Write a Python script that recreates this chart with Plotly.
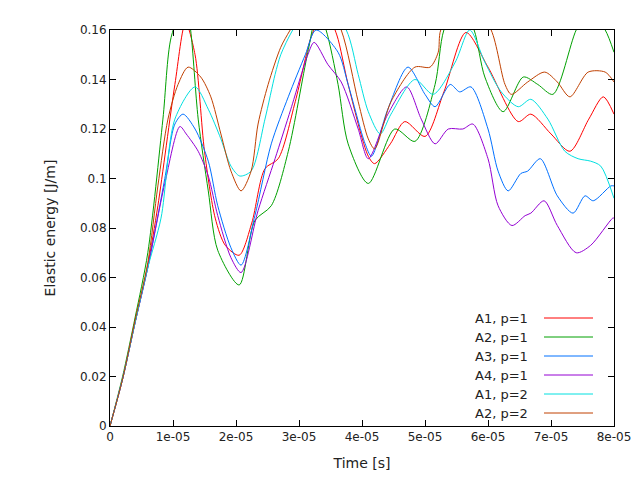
import plotly.graph_objects as go

# tiempo en unidades de 1e-5 s
t_red = [0, 0.2, 0.4, 0.6, 0.76, 1.03, 1.2, 1.35, 1.5, 1.67, 1.83, 2.05, 2.25, 2.46, 2.67, 2.94, 3.19, 3.3, 3.45, 3.6, 3.78, 4.1, 4.2, 4.45, 4.68, 5.0, 5.3, 5.65, 6.0, 6.48, 6.68, 7.0, 7.3, 7.6, 7.83, 8.0]
y_red = [0, 0.019, 0.042, 0.065, 0.089, 0.138, 0.163, 0.150, 0.111, 0.084, 0.073, 0.069, 0.082, 0.104, 0.108, 0.131, 0.157, 0.163, 0.166, 0.158, 0.138, 0.109, 0.106, 0.114, 0.123, 0.117, 0.135, 0.159, 0.145, 0.123, 0.126, 0.118, 0.111, 0.124, 0.133, 0.126]

t_green = [0, 0.2, 0.4, 0.6, 0.84, 0.97, 1.2, 1.28, 1.4, 1.56, 1.71, 2.05, 2.3, 2.56, 2.83, 3.14, 3.3, 3.43, 3.62, 3.78, 4.1, 4.52, 4.84, 5.16, 5.3, 5.55, 5.78, 5.95, 6.24, 6.56, 6.79, 7.03, 7.4, 7.6, 7.86, 8.0]
y_green = [0, 0.020, 0.044, 0.070, 0.124, 0.157, 0.172, 0.160, 0.124, 0.095, 0.071, 0.057, 0.083, 0.089, 0.111, 0.151, 0.168, 0.160, 0.138, 0.114, 0.098, 0.120, 0.115, 0.138, 0.160, 0.172, 0.160, 0.141, 0.127, 0.141, 0.138, 0.134, 0.160, 0.168, 0.160, 0.151]

t_blue = [0, 0.2, 0.4, 0.6, 0.87, 1.03, 1.16, 1.35, 1.56, 1.71, 1.92, 2.08, 2.3, 2.56, 2.83, 3.1, 3.27, 3.62, 3.78, 4.05, 4.15, 4.41, 4.73, 5.0, 5.16, 5.4, 5.55, 5.73, 6.0, 6.16, 6.32, 6.52, 6.63, 6.83, 7.1, 7.35, 7.54, 7.67, 7.95, 8.0]
y_blue = [0, 0.019, 0.042, 0.064, 0.100, 0.122, 0.126, 0.120, 0.107, 0.089, 0.072, 0.065, 0.085, 0.114, 0.133, 0.150, 0.160, 0.151, 0.138, 0.114, 0.109, 0.128, 0.145, 0.134, 0.129, 0.138, 0.135, 0.137, 0.120, 0.103, 0.095, 0.102, 0.103, 0.108, 0.093, 0.086, 0.093, 0.091, 0.097, 0.097]

t_purple = [0, 0.2, 0.4, 0.6, 0.87, 1.11, 1.21, 1.4, 1.56, 1.71, 1.92, 2.08, 2.35, 2.62, 2.87, 3.14, 3.24, 3.46, 3.67, 3.94, 4.1, 4.41, 4.71, 4.94, 5.16, 5.37, 5.6, 5.76, 6.0, 6.16, 6.38, 6.59, 6.68, 6.89, 7.1, 7.4, 7.63, 7.98, 8.0]
y_purple = [0, 0.019, 0.042, 0.064, 0.098, 0.121, 0.118, 0.111, 0.101, 0.085, 0.068, 0.062, 0.087, 0.108, 0.128, 0.150, 0.155, 0.146, 0.139, 0.120, 0.108, 0.126, 0.137, 0.124, 0.114, 0.120, 0.120, 0.122, 0.108, 0.089, 0.081, 0.085, 0.086, 0.091, 0.081, 0.070, 0.073, 0.084, 0.084]

t_cyan = [0, 0.2, 0.4, 0.6, 0.81, 1.03, 1.35, 1.56, 1.76, 1.92, 2.06, 2.24, 2.46, 2.62, 2.71, 2.9, 3.3, 3.75, 3.94, 4.1, 4.29, 4.46, 4.84, 5.13, 5.48, 5.71, 5.95, 6.21, 6.48, 6.68, 6.95, 7.22, 7.43, 7.63, 7.79, 8.0]
y_cyan = [0, 0.019, 0.042, 0.064, 0.084, 0.124, 0.137, 0.128, 0.116, 0.105, 0.101, 0.103, 0.124, 0.142, 0.150, 0.160, 0.175, 0.160, 0.142, 0.127, 0.118, 0.126, 0.140, 0.134, 0.147, 0.160, 0.147, 0.135, 0.129, 0.132, 0.124, 0.111, 0.108, 0.107, 0.105, 0.092]

t_brown = [0, 0.2, 0.4, 0.6, 0.76, 0.92, 1.08, 1.24, 1.44, 1.6, 1.76, 1.92, 2.08, 2.24, 2.35, 2.51, 2.71, 2.86, 3.3, 3.67, 3.94, 4.1, 4.2, 4.46, 4.84, 5.08, 5.21, 5.25, 5.65, 6.05, 6.27, 6.37, 6.63, 6.9, 7.1, 7.3, 7.59, 7.86, 8.0]
y_brown = [0, 0.019, 0.043, 0.066, 0.097, 0.124, 0.138, 0.145, 0.141, 0.133, 0.118, 0.103, 0.095, 0.103, 0.122, 0.138, 0.153, 0.160, 0.178, 0.160, 0.131, 0.116, 0.112, 0.131, 0.145, 0.145, 0.151, 0.160, 0.175, 0.160, 0.138, 0.134, 0.139, 0.143, 0.139, 0.133, 0.143, 0.143, 0.139]

series = [
    ('A1, p=1', t_red, y_red, '#ff0000'),
    ('A2, p=1', t_green, y_green, '#00a000'),
    ('A3, p=1', t_blue, y_blue, '#0070ff'),
    ('A4, p=1', t_purple, y_purple, '#9400d3'),
    ('A1, p=2', t_cyan, y_cyan, '#00e0e0'),
    ('A2, p=2', t_brown, y_brown, '#c04000'),
]

x_ticks = [0, 1e-5, 2e-5, 3e-5, 4e-5, 5e-5, 6e-5, 7e-5, 8e-5]
x_labels = ['0', '1e-05', '2e-05', '3e-05', '4e-05', '5e-05', '6e-05', '7e-05', '8e-05']
y_ticks = [0, 0.02, 0.04, 0.06, 0.08, 0.1, 0.12, 0.14, 0.16]
y_labels = ['0', '0.02', '0.04', '0.06', '0.08', '0.1', '0.12', '0.14', '0.16']

fig = go.Figure()
for name, t, y, color in series:
    fig.add_trace(go.Scatter(
        x=[v * 1e-5 for v in t], y=y, name=name, mode='lines',
        line=dict(color=color, width=1, shape='spline', smoothing=0.8),
        showlegend=False,
    ))

# leyenda estilo gnuplot (texto a la izquierda de la muestra)
for i, (name, t, y, color) in enumerate(series):
    yp = (418 - (310 + i * 19)) / 396
    fig.add_annotation(xref='paper', yref='paper', x=(522 - 102) / 504, y=yp,
                       text=name, showarrow=False, xanchor='right', yanchor='middle',
                       font=dict(size=13, color='#222'))
    fig.add_shape(type='line', xref='paper', yref='paper',
                  x0=(536 - 102) / 504, x1=(585 - 102) / 504, y0=yp, y1=yp,
                  line=dict(color=color, width=1))

fig.update_layout(
    width=640, height=480,
    margin=dict(l=102, r=34, t=22, b=62),
    plot_bgcolor='white', paper_bgcolor='white',
    font=dict(family='DejaVu Sans', size=12, color='#222'),
)
fig.update_xaxes(range=[0, 8e-5], tickvals=x_ticks, ticktext=x_labels,
                 showgrid=False, zeroline=False, showline=True, mirror='allticks',
                 linecolor='black', ticks='inside', ticklen=6, tickcolor='black',
                 title_text='Time [s]', title_standoff=14, automargin=False)
fig.update_yaxes(range=[0, 0.16], tickvals=y_ticks, ticktext=y_labels,
                 showgrid=False, zeroline=False, showline=True, mirror='allticks',
                 linecolor='black', ticks='inside', ticklen=6, tickcolor='black',
                 title_text='Elastic energy [J/m]', title_standoff=20, automargin=False)

fig.write_html('out.html')
